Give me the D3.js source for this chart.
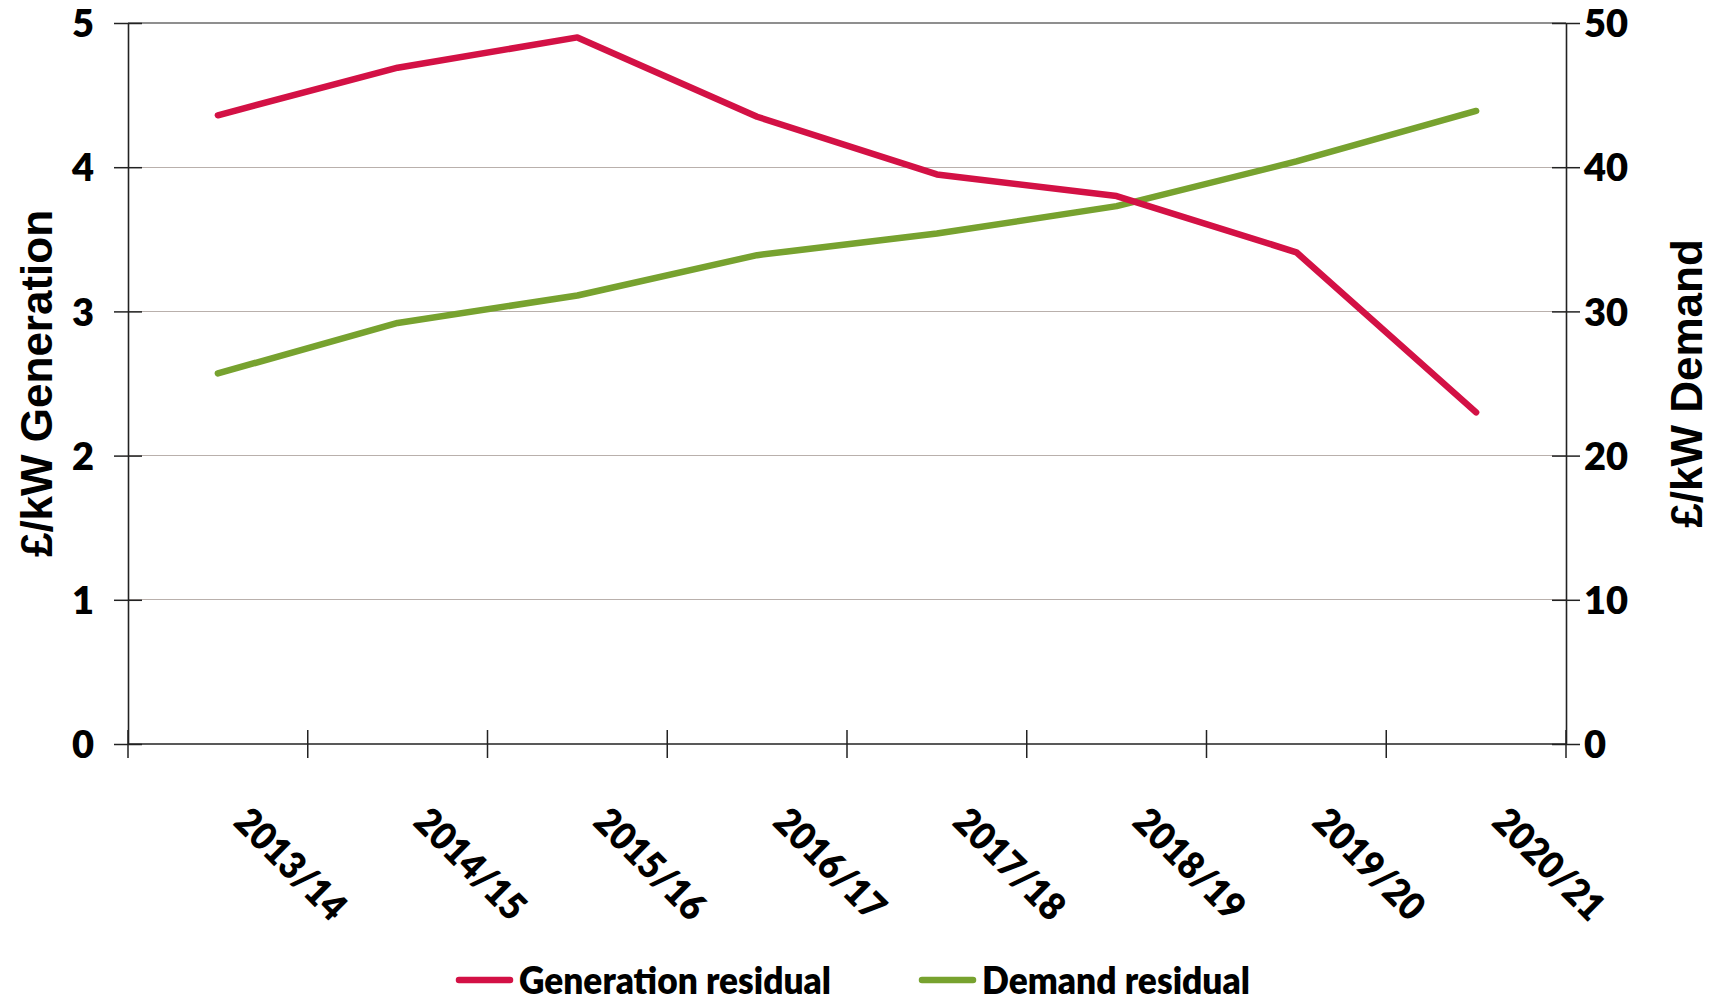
<!DOCTYPE html>
<html>
<head>
<meta charset="utf-8">
<script src="https://cdn.jsdelivr.net/npm/d3@7/dist/d3.min.js"></script>
<style>
  html, body { margin: 0; padding: 0; background: #ffffff; }
  svg { display: block; }
</style>
</head>
<body>
<svg id="chart" width="1711" height="1002"></svg>
<script>
// ---- data ----
const categories = ["2013/14", "2014/15", "2015/16", "2016/17", "2017/18", "2018/19", "2019/20", "2020/21"];
const generationResidual = [4.36, 4.69, 4.90, 4.35, 3.95, 3.80, 3.41, 2.30];
const demandResidual = [25.7, 29.2, 31.1, 33.9, 35.4, 37.3, 40.4, 43.9];
const leftTicks = [0, 1, 2, 3, 4, 5];
const rightTicks = [0, 10, 20, 30, 40, 50];
const seriesNames = ["Generation residual", "Demand residual"];
const leftTitle = "£/kW Generation";
const rightTitle = "£/kW Demand";

// ---- layout ----
const plot = { left: 128, right: 1566, top: 23, bottom: 744 };
const colors = { gen: "#d31145", dem: "#77a22f" };
const labelFont = "Lato, 'Open Sans', sans-serif";
const labelWeight = 800;
const titleFont = "'Liberation Sans', Arial, sans-serif";

const svg = d3.select("#chart");

const x = d3.scaleBand().domain(categories).range([plot.left, plot.right]).paddingInner(0).paddingOuter(0);
const yL = d3.scaleLinear().domain([0, 5]).range([plot.bottom, plot.top]);
const yR = d3.scaleLinear().domain([0, 50]).range([plot.bottom, plot.top]);
const cx = d => x(d) + x.bandwidth() / 2;

// gridlines
svg.append("g").selectAll("line").data(leftTicks.filter(t => t > 0)).join("line")
  .attr("x1", plot.left).attr("x2", plot.right)
  .attr("y1", d => yL(d)).attr("y2", d => yL(d))
  .attr("stroke", d => d === 5 ? "#8f8f8f" : "#b9b0ac")
  .attr("stroke-width", 1.3)
  .attr("shape-rendering", "crispEdges");

// left axis
const leftAxis = d3.axisLeft(yL).tickValues(leftTicks).tickSize(0).tickFormat(d3.format("d"));
const gL = svg.append("g").attr("transform", `translate(${plot.left},0)`).call(leftAxis);
gL.select(".domain").attr("stroke", "#222").attr("stroke-width", 1.6);
gL.selectAll(".tick line").remove();
gL.selectAll(".tick").append("line").attr("x1", -14).attr("x2", 14).attr("stroke", "#222").attr("stroke-width", 1.5);
gL.selectAll(".tick text").attr("x", -34).attr("dy", "0.36em")
  .attr("font-family", labelFont).attr("font-weight", labelWeight).attr("font-size", 38).attr("fill", "#000");

// right axis
const rightAxis = d3.axisRight(yR).tickValues(rightTicks).tickSize(0).tickFormat(d3.format("d"));
const gR = svg.append("g").attr("transform", `translate(${plot.right},0)`).call(rightAxis);
gR.select(".domain").attr("stroke", "#222").attr("stroke-width", 1.6);
gR.selectAll(".tick line").remove();
gR.selectAll(".tick").append("line").attr("x1", -14).attr("x2", 14).attr("stroke", "#222").attr("stroke-width", 1.5);
gR.selectAll(".tick text").attr("x", 18).attr("dy", "0.36em")
  .attr("font-family", labelFont).attr("font-weight", labelWeight).attr("font-size", 38).attr("fill", "#000");

// bottom axis
const boundaries = categories.map(c => x(c)).concat([plot.right]);
svg.append("line").attr("x1", plot.left).attr("x2", plot.right).attr("y1", plot.bottom).attr("y2", plot.bottom)
  .attr("stroke", "#222").attr("stroke-width", 1.6);
svg.append("g").selectAll("line").data(boundaries).join("line")
  .attr("x1", d => d).attr("x2", d => d)
  .attr("y1", plot.bottom - 14).attr("y2", plot.bottom + 14)
  .attr("stroke", "#222").attr("stroke-width", 1.5);
svg.append("g").selectAll("text").data(categories).join("text")
  .attr("transform", d => `translate(${cx(d) + 14},${plot.bottom + 80}) rotate(45)`)
  .attr("font-family", labelFont).attr("font-weight", labelWeight).attr("font-size", 38).attr("fill", "#000")
  .attr("text-anchor", "start")
  .attr("textLength", 140).attr("lengthAdjust", "spacingAndGlyphs")
  .text(d => d);

// lines
const genLine = d3.line().x((d, i) => cx(categories[i])).y(d => yL(d));
const demLine = d3.line().x((d, i) => cx(categories[i])).y(d => yR(d));
svg.append("path").datum(demandResidual).attr("d", demLine)
  .attr("fill", "none").attr("stroke", colors.dem).attr("stroke-width", 6.5)
  .attr("stroke-linecap", "round").attr("stroke-linejoin", "round");
svg.append("path").datum(generationResidual).attr("d", genLine)
  .attr("fill", "none").attr("stroke", colors.gen).attr("stroke-width", 6.5)
  .attr("stroke-linecap", "round").attr("stroke-linejoin", "round");

// axis titles
svg.append("text")
  .attr("transform", `translate(52,${(plot.top + plot.bottom) / 2}) rotate(-90)`)
  .attr("text-anchor", "middle")
  .attr("font-family", titleFont).attr("font-weight", 700).attr("font-size", 44).attr("fill", "#000")
  .text(leftTitle);
svg.append("text")
  .attr("transform", `translate(1702,${(plot.top + plot.bottom) / 2}) rotate(-90)`)
  .attr("text-anchor", "middle")
  .attr("font-family", titleFont).attr("font-weight", 700).attr("font-size", 44).attr("fill", "#000")
  .text(rightTitle);

// legend
const legendItems = [
  { name: seriesNames[0], color: colors.gen, x: 459, w: 312 },
  { name: seriesNames[1], color: colors.dem, x: 922, w: 268 }
];
const lg = svg.append("g").selectAll("g").data(legendItems).join("g")
  .attr("transform", d => `translate(${d.x},980)`);
lg.append("line").attr("x1", 0).attr("x2", 51).attr("y1", 0).attr("y2", 0)
  .attr("stroke", d => d.color).attr("stroke-width", 6.5).attr("stroke-linecap", "round");
lg.append("text").attr("x", 60).attr("dy", "0.36em")
  .attr("font-family", labelFont).attr("font-weight", labelWeight).attr("font-size", 38).attr("fill", "#000")
  .attr("textLength", d => d.w).attr("lengthAdjust", "spacingAndGlyphs")
  .text(d => d.name);
</script>
</body>
</html>
